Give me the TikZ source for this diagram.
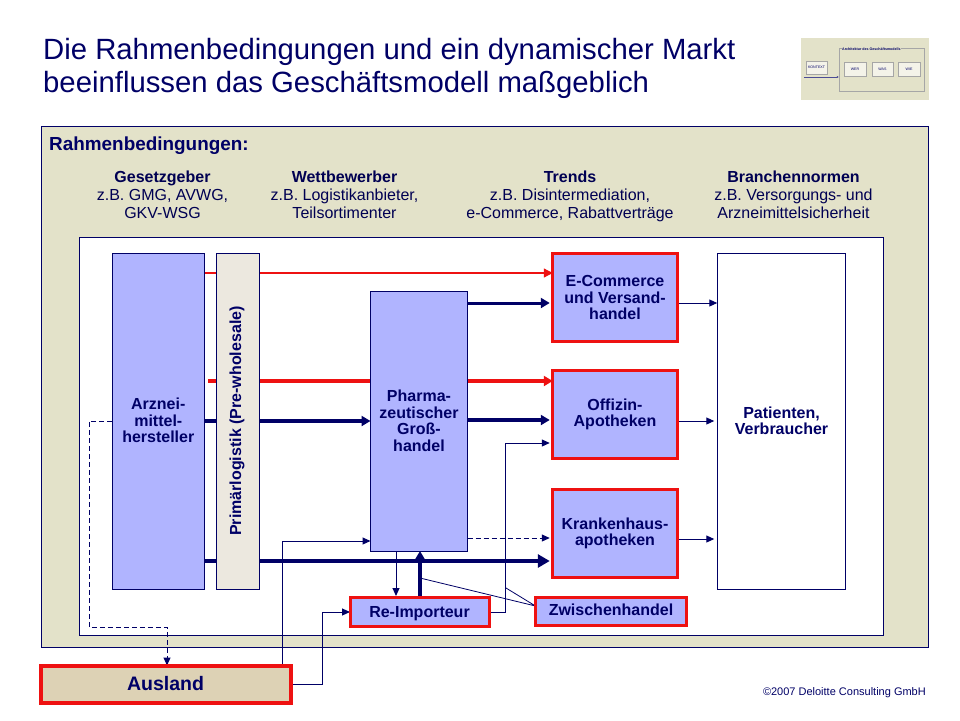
\documentclass[tikz,border=0pt]{standalone}
\usepackage{fontspec}
\setmainfont{Liberation Sans}
\usetikzlibrary{arrows.meta,positioning}
\definecolor{navy}{HTML}{000066}
\definecolor{boxblue}{HTML}{B0B4FF}
\definecolor{redb}{HTML}{EE1111}
\definecolor{olive}{HTML}{E3E2C9}
\definecolor{cream}{HTML}{ECE8DF}
\definecolor{sand}{HTML}{DDD2B5}
\pgfdeclarelayer{back}\pgfdeclarelayer{conn}
\pgfsetlayers{back,conn,main}
\newcommand{\fs}[2]{\fontsize{#1}{#2}\selectfont}
\tikzset{
  x=1pt,y=-1pt,
  base/.style={inner sep=0pt,outer sep=0pt,align=center,text=navy,font=\fs{16}{16.5}\bfseries},
  plainbox/.style={base,draw=navy,line width=1pt,fill=boxblue},
  redbox/.style={base,draw=redb,line width=3pt,fill=boxblue},
  head/.style={inner sep=0pt,align=center,text=navy!80!black,font=\fs{16}{18}},
  thin arrow/.style={draw=navy,line width=1pt,-{Triangle[length=8pt,width=7pt]}},
  thick arrow/.style={draw=navy,line width=4pt,-{Triangle[length=12pt,width=13pt]}},
  mid arrow/.style={draw=navy,line width=3.5pt,-{Triangle[length=9pt,width=10pt]}},
  longdash/.style={dash pattern=on 5pt off 3pt},
  thumb/.style={inner sep=0pt,draw=gray!70,line width=0.5pt,fill=white!60!olive,text=navy,font=\fs{3.6}{4}},
}
\begin{document}
\begin{tikzpicture}
\useasboundingbox (0,0) rectangle (960,720);
\node[anchor=north west,inner sep=0pt,align=left,text=navy,font=\fs{29.3}{33}] (title) at (43,38) {Die Rahmenbedingungen und ein dynamischer Markt\\beeinflussen das Geschäftsmodell maßgeblich};
% thumbnail
\node[inner sep=0pt,fill=olive,minimum width=128pt,minimum height=62pt] (thumbbg) at (865,69) {};
\node[thumb,minimum width=85pt,minimum height=43pt,fill=olive] (tharch) at (881.5,69.5) {};
\node[inner sep=0pt,anchor=west,text=navy,font=\fs{3.6}{4}\bfseries,fill=olive] (tharcht) at (842,49) {Architektur des Geschäftsmodells};
\node[thumb,minimum width=21pt,minimum height=13pt] (thk) at (816.5,67.5) {KONTEXT};
\node[thumb,minimum width=22pt,minimum height=14pt] (thwer) at (855,69) {WER};
\node[thumb,minimum width=21pt,minimum height=14pt] (thwas) at (882.5,69) {WAS};
\node[thumb,minimum width=22pt,minimum height=14pt] (thwie) at (909,69) {WIE};
\coordinate (thstart) at (804,77);
\draw[draw=navy!70,line width=0.5pt,-{Triangle[length=2pt,width=2pt]}] (thstart) -- (tharch.west |- thstart);

\begin{pgfonlayer}{back}
\node[base,draw=navy,line width=1pt,fill=olive,minimum width=887pt,minimum height=521pt] (outer) at (484.5,386.5) {};
\node[base,draw=navy,line width=1pt,fill=white,minimum width=804pt,minimum height=398pt] (inner) at (481,436) {};
\end{pgfonlayer}

\node[anchor=west,inner sep=0pt,text=navy,font=\fs{18.9}{20}\bfseries] (rb) at (49,145.5) {Rahmenbedingungen:};
\node[head] (h1) at (162.5,196.5) {\strut\textbf{Gesetzgeber}\\z.B. GMG, AVWG,\\GKV-WSG\strut};
\node[head] (h2) at (344.5,196.5) {\strut\textbf{Wettbewerber}\\z.B. Logistikanbieter,\\Teilsortimenter\strut};
\node[head] (h3) at (570,196.5) {\strut\textbf{Trends}\\z.B. Disintermediation,\\e-Commerce, Rabattverträge\strut};
\node[head] (h4) at (793.5,196.5) {\strut\textbf{Branchennormen}\\z.B. Versorgungs- und\\Arzneimittelsicherheit\strut};

\node[plainbox,minimum width=92.5pt,minimum height=336pt] (arz) at (158.3,421) {\raisebox{1.3pt}{Arznei-}\\\raisebox{1pt}{mittel-}\\\raisebox{1.3pt}{hersteller}};
\node[plainbox,fill=cream,minimum width=43pt,minimum height=336pt] (prim) at (238,421) {};
\node[base,rotate=90] (primt) at (237,421) {Primärlogistik (Pre-wholesale)};
\node[plainbox,minimum width=97pt,minimum height=260pt] (ph) at (419,421) {Pharma-\\zeutischer\\Groß-\\handel};
\node[redbox,minimum width=124.5pt,minimum height=87.5pt,text depth=0pt] (ec) at (615,297.5) {E-Commerce\\und Versand-\\handel};
\node[redbox,minimum width=124.5pt,minimum height=87.5pt] (of) at (615,414.5) {Offizin-\\Apotheken};
\node[redbox,minimum width=124.5pt,minimum height=87.5pt] (kr) at (615,533.5) {Krankenhaus-\\apotheken};
\node[plainbox,fill=white,minimum width=128.5pt,minimum height=336pt] (pat) at (781.5,421) {Patienten,\\Verbraucher};
\node[redbox,minimum width=139pt,minimum height=29pt,text depth=0pt] (re) at (419.5,612) {Re-Importeur};
\node[redbox,minimum width=151pt,minimum height=28pt,text depth=3pt] (zw) at (611,611) {Zwischenhandel};
\node[base,draw=redb,line width=4pt,fill=sand,font=\fs{19.5}{20}\bfseries,minimum width=250pt,minimum height=37pt] (au) at (165.5,684) {Ausland};
\node[anchor=east,inner sep=0pt,text=navy,font=\fs{11}{13}] (copy) at (926,693) {©2007 Deloitte Consulting GmbH};

\coordinate (j1) at (420,578);
\coordinate (j2) at (506,588);
\coordinate (rs) at (208,381);

\begin{pgfonlayer}{conn}
\draw[draw=redb,line width=1.2pt,-{Triangle[length=9pt,width=9pt]}] (arz.east |- 0,273) -- (ec.west |- 0,273);
\draw[draw=redb,line width=3.5pt,-{Triangle[length=9pt,width=10pt]}] (rs) -- (of.west |- rs);
\draw[mid arrow] (arz.east |- 0,421) -- (ph.west |- 0,421);
\draw[thick arrow,shorten >=3pt] (arz.east |- 0,561) -- (kr.west |- 0,561);
\draw[mid arrow,line width=3pt,shorten >=3pt] (ph.east |- 0,303) -- (ec.west |- 0,303);
\draw[mid arrow,shorten >=3pt] (ph.east |- 0,420) -- (of.west |- 0,420);
\draw[thin arrow,longdash,shorten >=3pt] (ph.east |- 0,538) -- (kr.west |- 0,538);
\draw[thin arrow] (396,551) -- (396,596);
\draw[mid arrow] (re.north -| 420,0) -- (ph.south -| 420,0);
\draw[thin arrow,shorten >=3pt] (re.east) -| (505,443) -- (of.west |- 0,443);
\draw[thin arrow] (au.east) -| (322,612) -- (re.west |- 0,612);
\draw[thin arrow] (au.north -| 282,0) |- (ph.west |- 0,541);
\draw[thin arrow,longdash] (arz.west |- 0,421) -| (89,627) -| (au.north -| 167,0);
\draw[thin arrow] (ec.east |- 0,303) -- (pat.west |- 0,303);
\draw[thin arrow,shorten >=3pt] (of.east |- 0,421) -- (pat.west |- 0,421);
\draw[thin arrow,shorten >=3pt] (kr.east |- 0,539) -- (pat.west |- 0,539);
\draw[navy,line width=0.8pt] (j1) -- (zw.west |- 0,606) -- (j2);
\end{pgfonlayer}
\end{tikzpicture}
\end{document}
